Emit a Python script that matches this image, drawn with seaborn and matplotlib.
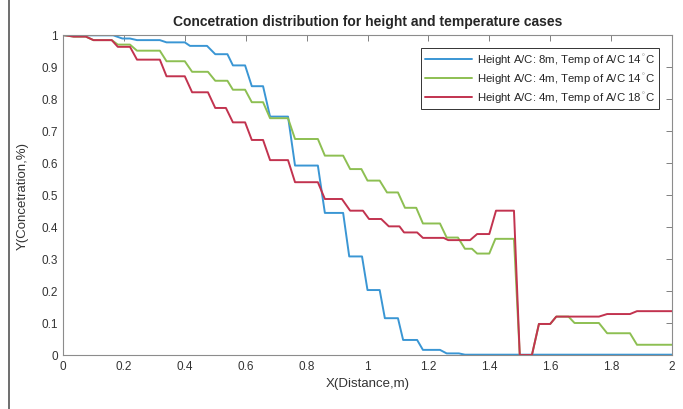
import numpy as np
import pandas as pd
import matplotlib
matplotlib.use("Agg")
import matplotlib.pyplot as plt
import seaborn as sns
from matplotlib.lines import Line2D
from matplotlib.ticker import FuncFormatter

# plateaus: start x, end x, level
blue_x0 = [0.0, 0.195, 0.243, 0.34, 0.417, 0.5, 0.558, 0.62, 0.68, 0.762, 0.86, 0.94,
           1.0, 1.057, 1.117, 1.182, 1.26, 1.32]
blue_x1 = [0.165, 0.22, 0.318, 0.40, 0.473, 0.54, 0.598, 0.657, 0.739, 0.837, 0.92, 0.982,
           1.04, 1.1, 1.163, 1.238, 1.30, 2.0]
blue_y = [0.999, 0.989, 0.984, 0.977, 0.966, 0.94, 0.905, 0.84, 0.745, 0.592, 0.444, 0.308,
          0.203, 0.115, 0.047, 0.016, 0.005, 0.001]

green_x0 = [0.0, 0.035, 0.1, 0.18, 0.243, 0.34, 0.424, 0.5, 0.558, 0.62, 0.68, 0.762, 0.86,
            0.943, 1.0, 1.064, 1.123, 1.182, 1.26, 1.32, 1.36, 1.42, 1.50, 1.563, 1.62,
            1.68, 1.787, 1.885]
green_x1 = [0.0, 0.075, 0.16, 0.22, 0.318, 0.40, 0.476, 0.54, 0.598, 0.657, 0.739, 0.837, 0.92,
            0.98, 1.04, 1.1, 1.16, 1.238, 1.297, 1.343, 1.40, 1.481, 1.54, 1.60, 1.66,
            1.76, 1.862, 2.0]
green_y = [1.0, 0.995, 0.984, 0.97, 0.951, 0.918, 0.885, 0.857, 0.829, 0.79, 0.74, 0.675, 0.623,
           0.581, 0.545, 0.508, 0.46, 0.411, 0.367, 0.332, 0.317, 0.363, 0.0, 0.097, 0.12,
           0.10, 0.068, 0.032]

red_x0 = [0.0, 0.035, 0.1, 0.18, 0.243, 0.34, 0.424, 0.5, 0.558, 0.62, 0.68, 0.762, 0.86,
          0.943, 1.005, 1.07, 1.12, 1.182, 1.265, 1.36, 1.422, 1.50, 1.563, 1.62, 1.787, 1.885]
red_x1 = [0.0, 0.075, 0.16, 0.22, 0.318, 0.40, 0.476, 0.535, 0.598, 0.657, 0.739, 0.837, 0.916,
          0.985, 1.045, 1.105, 1.163, 1.25, 1.337, 1.40, 1.481, 1.54, 1.60, 1.76, 1.862, 2.0]
red_y = [1.0, 0.995, 0.984, 0.963, 0.923, 0.871, 0.821, 0.772, 0.727, 0.672, 0.609, 0.54, 0.4875,
         0.451, 0.425, 0.402, 0.383, 0.366, 0.359, 0.378, 0.451, 0.0, 0.097, 0.12, 0.128, 0.137]

labels = [r"Height A/C: 8m, Temp of A/C 14$^{^\circ}$C",
          r"Height A/C: 4m, Temp of A/C 14$^{^\circ}$C",
          r"Height A/C: 4m, Temp of A/C 18$^{^\circ}$C"]
colors = ["#3a96d4", "#8dbf52", "#c2334f"]


def vertices(x0, x1, y, label):
    xs, ys = [], []
    for a, b, v in zip(x0, x1, y):
        xs += [a, b]
        ys += [v, v]
    return pd.DataFrame({"x": xs, "y": ys, "case": label})


df = pd.concat([
    vertices(blue_x0, blue_x1, blue_y, labels[0]),
    vertices(green_x0, green_x1, green_y, labels[1]),
    vertices(red_x0, red_x1, red_y, labels[2]),
], ignore_index=True)

sns.set_style("white")
plt.rcParams["font.family"] = ["Liberation Sans", "DejaVu Sans"]
plt.rcParams["mathtext.fontset"] = "custom"
plt.rcParams["mathtext.rm"] = "Liberation Sans"

fig = plt.figure(figsize=(6.83, 4.10), dpi=100)
ax = fig.add_axes([63 / 683, 54 / 410, 609 / 683, 320 / 410])

sns.lineplot(data=df, x="x", y="y", hue="case", palette=dict(zip(labels, colors)),
             estimator=None, sort=False, linewidth=1.4, ax=ax)

ax.set_xlim(0, 2)
ax.set_ylim(0, 1)
ax.set_xticks(np.arange(0, 2.01, 0.2))
ax.set_yticks(np.arange(0, 1.01, 0.1))
fmt = FuncFormatter(lambda v, p: f"{v:g}")
ax.xaxis.set_major_formatter(fmt)
ax.yaxis.set_major_formatter(fmt)
ax.tick_params(direction="in", length=4, width=0.7, colors="#808080",
               labelcolor="#333333", labelsize=8.5, top=True, right=True)
for s in ax.spines.values():
    s.set_color("#8c8c8c")
    s.set_linewidth(0.8)

ax.set_title("Concetration distribution for height and temperature cases",
             fontsize=10, fontweight="bold", pad=7)
ax.set_xlabel("X(Distance,m)", fontsize=9.5, color="#333333", labelpad=4)
ax.set_ylabel("Y(Concetration,%)", fontsize=9.5, color="#333333", labelpad=9)

leg = ax.legend(loc="upper right", fontsize=8.2, frameon=True, fancybox=False,
                edgecolor="#333333", framealpha=1, handlelength=4.2,
                borderaxespad=1.1, handletextpad=0.4, labelspacing=0.25,
                borderpad=0.35)
leg.get_frame().set_linewidth(0.7)

fig.add_artist(Line2D([8.5 / 683, 8.5 / 683], [0, 1], color="#555555", linewidth=1.2))

fig.savefig("out.png", dpi=100)
